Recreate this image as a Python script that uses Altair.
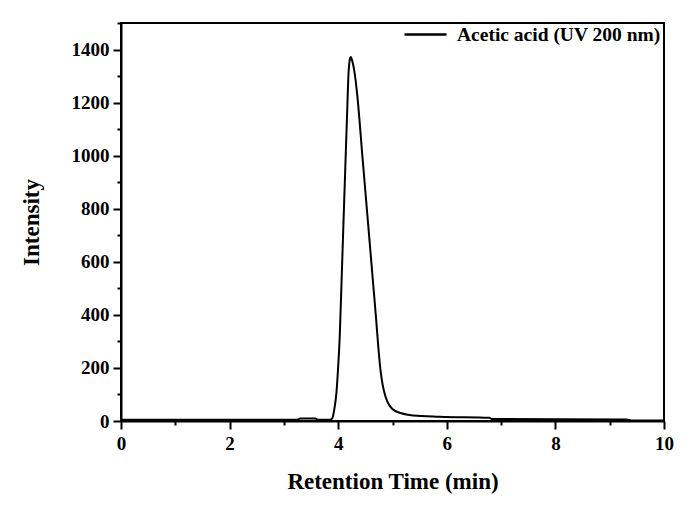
import altair as alt
import pandas as pd

# Retention time (min) and intensity
time_min = [0, 1, 2, 3, 3.25, 3.30, 3.58, 3.62, 3.85, 3.89, 3.936, 3.967, 3.996, 4.028,
            4.059, 4.099, 4.142, 4.170, 4.190, 4.205, 4.220, 4.232, 4.250, 4.270,
            4.290, 4.320, 4.350, 4.450, 4.550, 4.650, 4.700, 4.740, 4.780, 4.820,
            4.860, 4.900, 4.950, 5.010, 5.164,
            5.38, 5.87, 6.79, 6.82, 9.31, 9.40, 10]
intensity = [5, 5, 5, 5, 5, 9, 9, 5, 5, 10, 54, 105, 193, 318,
             508, 760, 1024, 1195, 1310, 1350, 1368, 1372, 1363, 1348,
             1327, 1285, 1230, 987, 745, 502, 380, 275, 190, 135,
             100, 76, 57, 43, 29,
             21, 16, 12, 8, 6, 2, 2]
series = ["Acetic acid (UV 200 nm)"] * len(time_min)

x_ticks = list(range(0, 11))
y_ticks = list(range(0, 1501, 100))

df = pd.DataFrame({"t": time_min, "v": intensity, "s": series})

FONT = "Liberation Serif"

chart = alt.Chart(df).mark_line(strokeWidth=2, interpolate="monotone").encode(
    x=alt.X("t:Q",
            scale=alt.Scale(domain=[0, 10], nice=False, zero=False),
            axis=alt.Axis(
                title="Retention Time (min)",
                values=x_ticks,
                labelExpr="datum.value % 2 == 0 ? datum.label : ''",
                tickSize={"condition": {"test": "datum.value % 2 == 0", "value": 8}, "value": 4},
                labelPadding=5,
                labelFlush=False,
                titlePadding=17,
            )),
    y=alt.Y("v:Q",
            scale=alt.Scale(domain=[0, 1500], nice=False),
            axis=alt.Axis(
                title="Intensity",
                values=y_ticks,
                labelExpr="datum.value % 200 == 0 && datum.value <= 1400 ? datum.label : ''",
                tickSize={"condition": {"test": "datum.value % 200 == 0", "value": 8}, "value": 4},
                labelPadding=4,
                labelFlush=False,
                titlePadding=28,
                format="d",
            )),
    color=alt.Color("s:N",
                    scale=alt.Scale(range=["black"]),
                    legend=alt.Legend(
                        title=None,
                        orient="none",
                        legendX=282,
                        legendY=-11,
                        padding=0,
                        symbolType="stroke",
                        symbolSize=1764,
                        symbolStrokeWidth=2.5,
                        labelOffset=9,
                        labelFont=FONT,
                        labelFontWeight="bold",
                        labelFontSize=19.5,
                        labelColor="black",
                        labelLimit=400,
                    )),
).properties(
    width=543,
    height=398,
    autosize=alt.AutoSizeParams(type="none"),
    padding={"left": 121, "top": 23, "right": 36, "bottom": 97},
).configure_view(
    stroke="black", strokeWidth=2
).configure_axis(
    domainColor="black", domainWidth=2,
    tickColor="black", tickWidth=2,
    labelFont=FONT, labelFontWeight="bold", labelFontSize=19, labelColor="black",
    titleFont=FONT, titleFontWeight="bold", titleFontSize=23, titleColor="black",
    grid=False,
)

chart.save("out.html", embed_options={"renderer": "svg", "actions": False})
